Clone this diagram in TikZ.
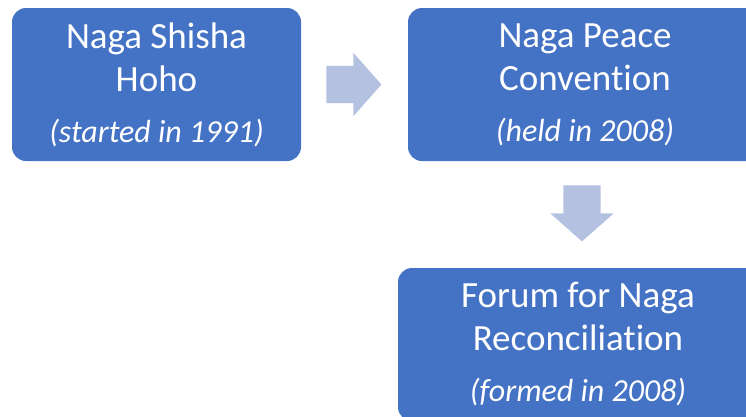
\documentclass[tikz,border=0pt]{standalone}
\usepackage{fontspec}
\setmainfont{Carlito}[Ligatures=NoCommon]
\usetikzlibrary{positioning,shapes.arrows}

\definecolor{boxblue}{RGB}{68,114,196}
\definecolor{arrowblue}{RGB}{180,193,225}

\tikzset{
  stage/.style={fill=boxblue, rounded corners=14pt, text=white, align=center,
    inner sep=0pt, minimum height=153pt, font=\fontsize{37}{43}\selectfont},
  blockarrow/.style={single arrow, fill=arrowblue, inner sep=18.5pt,
    single arrow head extend=13pt, single arrow tip angle=97},
}
\newcommand{\whenline}[1]{\\[8pt]{\fontsize{32}{38}\selectfont\itshape #1}}

\begin{document}
\begin{tikzpicture}[x=1pt,y=1pt]

\useasboundingbox (0,0) rectangle (746,-416);
\clip (0,0) rectangle (746,-416);

% The three stages
\node[stage, minimum width=289pt] (shisha) at (156.5,-84.5)
  {Naga Shisha\\Hoho\whenline{(started in 1991)}};
\node[stage, minimum width=354pt] (convention) at (585,-84.5)
  {Naga Peace\\Convention\whenline{(held in 2008)}};
\node[stage, minimum width=360pt] (forum) at (578,-344.5)
  {Forum for Naga\\Reconciliation\whenline{(formed in 2008)}};

% Block arrows from one stage to the next
\node[blockarrow, minimum height=55pt, right=25pt of shisha] (toconv) {};
\node[blockarrow, minimum height=56pt, shape border rotate=270,
  below=24pt of convention, xshift=-3pt] (toforum) {};

\end{tikzpicture}
\end{document}
